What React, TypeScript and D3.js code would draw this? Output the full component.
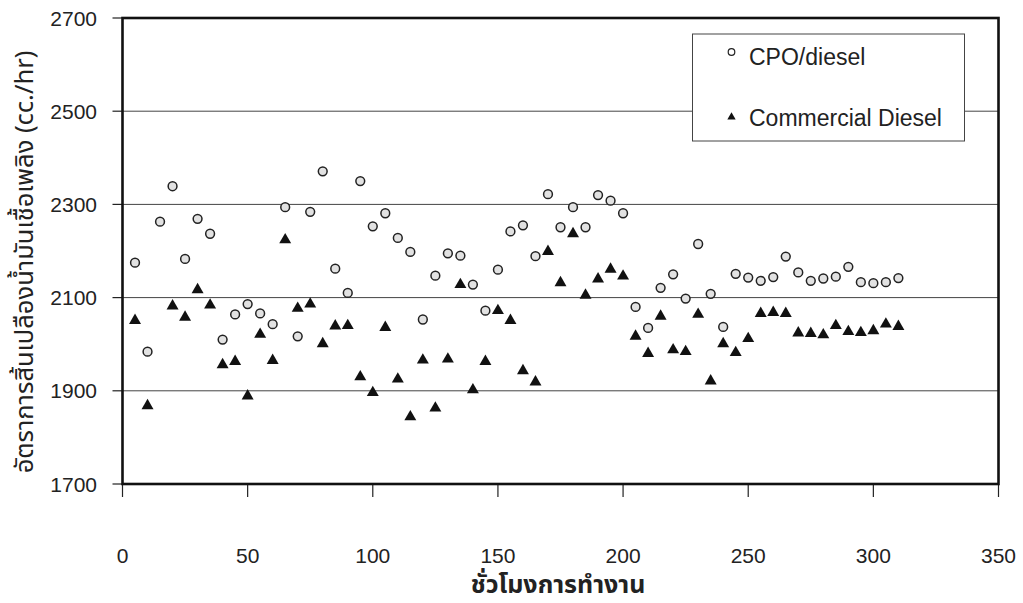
import React, { useEffect, useRef } from 'react';
import * as d3 from 'd3';

// hours of operation
const hours = [
  5, 10, 15, 20, 25, 30, 35, 40, 45, 50, 55, 60, 65, 70, 75, 80, 85, 90, 95, 100,
  105, 110, 115, 120, 125, 130, 135, 140, 145, 150, 155, 160, 165, 170, 175, 180, 185, 190, 195, 200,
  205, 210, 215, 220, 225, 230, 235, 240, 245, 250, 255, 260, 265, 270, 275, 280, 285, 290, 295, 300,
  305, 310,
];

// CPO/diesel fuel consumption (cc./hr)
const cpoDiesel = [
  2175, 1984, 2263, 2339, 2183, 2269, 2237, 2010, 2064, 2086, 2066, 2043, 2294, 2017, 2284, 2371, 2162, 2110, 2350, 2253,
  2281, 2228, 2198, 2053, 2147, 2195, 2190, 2128, 2072, 2160, 2242, 2255, 2189, 2322, 2251, 2294, 2251, 2320, 2308, 2281,
  2080, 2035, 2121, 2150, 2098, 2215, 2108, 2037, 2151, 2143, 2136, 2144, 2188, 2154, 2136, 2141, 2145, 2166, 2133, 2131,
  2133, 2142,
];

// Commercial diesel fuel consumption (cc./hr)
const commercialDiesel = [
  2051, 1868, null, 2082, 2058, 2117, 2084, 1956, 1963, 1889, 2021, 1965, 2224, 2077, 2086, 2001, 2039, 2040, 1930, 1896,
  2036, 1925, 1844, 1966, 1863, 1968, 2128, 1902, 1963, 2072, 2051, 1943, 1919, 2199, 2132, 2237, 2105, 2140, 2161, 2146,
  2017, 1980, 2060, 1988, 1984, 2064, 1921, 2001, 1982, 2012, 2066, 2068, 2066, 2024, 2023, 2020, 2040, 2027, 2025, 2029,
  2043, 2038,
];

const xTicks = [0, 50, 100, 150, 200, 250, 300, 350];
const yTicks = [1700, 1900, 2100, 2300, 2500, 2700];
const gridValues = [1900, 2100, 2300, 2500];

const seriesNames = ['CPO/diesel', 'Commercial Diesel'];
const xTitle = 'ชั่วโมงการทำงาน';
const yTitle = 'อัตราการสิ้นเปลืองน้ำมันเชื้อเพลิง (cc./hr)';

const latin = '"Liberation Sans", Arial, sans-serif';
const thai = '"Noto Sans Thai", "Noto Sans Thai UI", Tahoma, "Noto Sans", sans-serif';

function App() {
  const ref = useRef<SVGSVGElement>(null);

  useEffect(() => {
    const svg = d3.select(ref.current);
    svg.selectAll('*').remove();

    const left = 122.5, right = 998.5, top = 18, bottom = 484;

    const x = d3.scaleLinear().domain([0, 350]).range([left, right]);
    const y = d3.scaleLinear().domain([1700, 2700]).range([bottom, top]);

    svg.append('rect').attr('width', 1023).attr('height', 603).attr('fill', '#fff');

    // gridlines
    svg.append('g')
      .selectAll('line')
      .data(gridValues)
      .enter().append('line')
      .attr('x1', left).attr('x2', right)
      .attr('y1', d => y(d)).attr('y2', d => y(d))
      .attr('stroke', '#444')
      .attr('stroke-width', 1);

    // y ticks + labels
    const yg = svg.append('g');
    yg.selectAll('line')
      .data(yTicks)
      .enter().append('line')
      .attr('x1', left - 10).attr('x2', left)
      .attr('y1', d => y(d)).attr('y2', d => y(d))
      .attr('stroke', '#222').attr('stroke-width', 1.2);
    yg.selectAll('text')
      .data(yTicks)
      .enter().append('text')
      .attr('x', 97)
      .attr('y', d => y(d))
      .attr('dy', '0.36em')
      .attr('text-anchor', 'end')
      .attr('font-family', latin)
      .attr('font-size', 21)
      .attr('fill', '#222')
      .text(d => d);

    // x ticks + labels
    const xg = svg.append('g');
    xg.selectAll('line')
      .data(xTicks)
      .enter().append('line')
      .attr('x1', d => x(d)).attr('x2', d => x(d))
      .attr('y1', bottom).attr('y2', bottom + 13)
      .attr('stroke', '#222').attr('stroke-width', 1.2);
    xg.selectAll('text')
      .data(xTicks)
      .enter().append('text')
      .attr('x', d => x(d))
      .attr('y', 555)
      .attr('dy', '0.36em')
      .attr('text-anchor', 'middle')
      .attr('font-family', latin)
      .attr('font-size', 21)
      .attr('fill', '#222')
      .text(d => d);

    // frame
    svg.append('rect')
      .attr('x', left).attr('y', top)
      .attr('width', right - left).attr('height', bottom - top)
      .attr('fill', 'none')
      .attr('stroke', '#111')
      .attr('stroke-width', 2.6);

    // CPO/diesel circles
    svg.append('g')
      .selectAll('circle')
      .data(hours.map((h, i) => [h, cpoDiesel[i]]))
      .enter().append('circle')
      .attr('cx', d => x(d[0]))
      .attr('cy', d => y(d[1]))
      .attr('r', 4.4)
      .attr('fill', '#e2e2e2')
      .attr('stroke', '#222')
      .attr('stroke-width', 1.5);

    // commercial diesel triangles
    const tri = d3.symbol().type(d3.symbolTriangle).size(62);
    svg.append('g')
      .selectAll('path')
      .data(hours.map((h, i) => [h, commercialDiesel[i]]).filter(d => d[1] != null))
      .enter().append('path')
      .attr('transform', d => `translate(${x(d[0])},${y(d[1] as number)})`)
      .attr('d', tri)
      .attr('fill', '#111');

    // legend
    const lg = svg.append('g');
    lg.append('rect')
      .attr('x', 692.5).attr('y', 34)
      .attr('width', 272).attr('height', 107)
      .attr('fill', '#fff')
      .attr('stroke', '#444')
      .attr('stroke-width', 1);
    lg.append('circle')
      .attr('cx', 731.5).attr('cy', 52)
      .attr('r', 3.3)
      .attr('fill', '#fff').attr('stroke', '#222').attr('stroke-width', 1.2);
    lg.append('path')
      .attr('transform', 'translate(731.5,117)')
      .attr('d', d3.symbol().type(d3.symbolTriangle).size(30))
      .attr('fill', '#111');
    lg.selectAll('text')
      .data(seriesNames)
      .enter().append('text')
      .attr('x', 749)
      .attr('y', (d, i) => (i === 0 ? 57 : 118))
      .attr('dy', '0.36em')
      .attr('font-family', latin)
      .attr('font-size', 23)
      .attr('fill', '#222')
      .text(d => d);

    // axis titles
    svg.append('text')
      .attr('x', 558)
      .attr('y', 584)
      .attr('dy', '0.36em')
      .attr('text-anchor', 'middle')
      .attr('font-family', thai)
      .attr('font-size', 25)
      .attr('font-weight', 'bold')
      .attr('fill', '#222')
      .text(xTitle);

    svg.append('text')
      .attr('transform', 'translate(24,262) rotate(-90)')
      .attr('dy', '0.36em')
      .attr('text-anchor', 'middle')
      .attr('font-family', thai)
      .attr('font-size', 25.5)
      .attr('fill', '#222')
      .text(yTitle);
  }, []);

  return (
    <svg
      ref={ref}
      width={1023}
      height={603}
      style={{ position: 'absolute', left: 0, top: 0, display: 'block' }}
    />
  );
}

export default App;
